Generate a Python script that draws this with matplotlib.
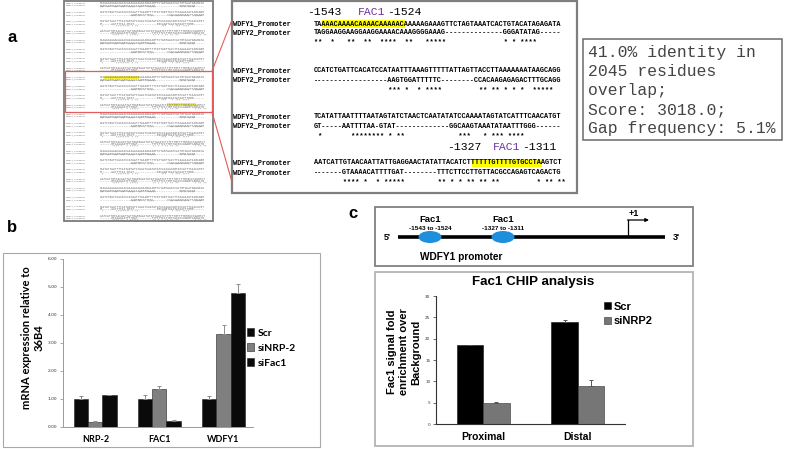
import matplotlib
matplotlib.use('Agg')
import matplotlib.pyplot as plt
from matplotlib.patches import Rectangle, Ellipse
import numpy as np

W, H = 787, 449

# ---- panel a: promoter alignment ----
seq_labels = ['WDFY1_Promoter', 'WDFY2_Promoter']
blocks = [
    ("TAAAACAAAACAAAACAAAAACAAAAAGAAAGTTCTAGTAAATCACTGTACATAGAGATA",
     "TAGGAAGGAAGGAAGGAAAACAAAGGGGAAAG--------------GGGATATAG-----",
     "**  *   **  **  ****  **   *****              * * ****"),
    ("CCATCTGATTCACATCCATAATTTAAAGTTTTTATTAGTTACCTTAAAAAAATAAGCAGG",
     "------------------AAGTGGATTTTTC--------CCACAAGAGAGACTTTGCAGG",
     "                  *** *  * ****         ** ** * * *  *****"),
    ("TCATATTAATTTTAATAGTATCTAACTCAATATATCCAAAATAGTATCATTTCAACATGT",
     "GT-----AATTTTAA-GTAT-------------GGCAAGTAAATATAATTTGGG------",
     " *       ******** * **             ***   * *** ****"),
    ("AATCATTGTAACAATTATTGAGGAACTATATTACATCTTTTTTGTTTTGTGCCTAAGTCT",
     "-------GTAAAACATTTTGAT--------TTTCTTCCTTGTTACGCCAGAGTCAGACTG",
     "       **** *  * *****        ** * * ** ** **         * ** **"),
]
# highlighted FAC1 sites: (block, first char, n chars)
fac1_sites = [(0, 2, 20), (3, 38, 17)]
site_labels = [('-1543', 'FAC1', '-1524'), ('-1327', 'FAC1', '-1311')]
stats_lines = ['41.0% identity in', '2045 residues', 'overlap;',
               'Score: 3018.0;', 'Gap frequency: 5.1%']

# ---- panel b: qPCR ----
b_genes = ['NRP-2', 'FAC1', 'WDFY1']
b_series = ['Scr', 'siNRP-2', 'siFac1']
b_scr = [1.00, 1.00, 1.00]
b_scr_err = [0.10, 0.15, 0.12]
b_sinrp2 = [0.18, 1.35, 3.33]
b_sinrp2_err = [0.05, 0.12, 0.32]
b_sifac1 = [1.15, 0.22, 4.78]
b_sifac1_err = [0.0, 0.02, 0.32]
b_yticks = [0, 1, 2, 3, 4, 5, 6]

# ---- panel c: ChIP ----
c_sites = ['-1543 to -1524', '-1327 to -1311']
c_regions = ['Proximal', 'Distal']
c_series = ['Scr', 'siNRP2']
c_scr = [18.4, 23.9]
c_scr_err = [0.2, 0.5]
c_sinrp2 = [4.9, 8.8]
c_sinrp2_err = [0.2, 1.4]
c_yticks = [0, 5, 10, 15, 20, 25, 30]

mono = 'Liberation Mono'
sans = 'Liberation Sans'
cal = 'Lato'

fig = plt.figure(figsize=(W / 100, H / 100), dpi=100)
fig.patch.set_facecolor('white')
ax0 = fig.add_axes([0, 0, 1, 1])
ax0.set_xlim(0, W)
ax0.set_ylim(H, 0)
ax0.axis('off')


def px_axes(x0, y0, x1, y1):
    return fig.add_axes([x0 / W, 1 - y1 / H, (x1 - x0) / W, (y1 - y0) / H])


def box(x0, y0, x1, y1, ec='#808080', lw=1.2):
    ax0.add_patch(Rectangle((x0, y0), x1 - x0, y1 - y0, fill=False, ec=ec, lw=lw, zorder=5))


# panel letters
for lab, x, y in [('a', 12, 37), ('b', 12, 227), ('c', 353, 213)]:
    ax0.text(x, y, lab, fontsize=12, weight='bold', family=sans, ha='center', va='center')

# thumbnail of whole alignment
box(64, 1, 213, 221, ec='#7a7a7a', lw=1.3)
tcw = 1.75
for k in range(24):
    y = 3 + 9.25 * k
    rows = blocks[k % 4]
    for b, i0, n in fac1_sites:
        if k in (8, 11) and b == k % 4:
            ax0.add_patch(Rectangle((100 + i0 * tcw, y - 1.5), n * tcw, 3,
                                    fc='#f2ee3a', ec='none', zorder=1))
    for j in range(2):
        ax0.text(66, y + 2.6 * j, seq_labels[j], fontsize=1.7, family=mono,
                 color='#6a6a6a', va='center', zorder=2)
        ax0.text(100, y + 2.6 * j, rows[j], fontsize=2.1, family=mono,
                 color='#6a6a6a', va='center', zorder=2)
    ax0.text(100, y + 5.2, rows[2], fontsize=2.1, family=mono,
             color='#6a6a6a', va='center', zorder=2)

ax0.add_patch(Rectangle((65, 71), 147, 41, fill=False, ec='#e65a5a', lw=0.9, zorder=6))
ax0.plot([212, 232], [71, 20], color='#e65a5a', lw=0.8, zorder=6)
ax0.plot([212, 232], [112, 182], color='#e65a5a', lw=0.8, zorder=6)

# zoomed alignment
box(232, 1, 577, 193, ec='#7f7f7f', lw=1.6)
seq_x0 = 314
cw = 4.15
fs_seq = cw * 72 / 100 / 0.6
block_y = [(24, 33, 43), (71, 80, 90), (117, 126, 136), (163, 173, 183)]
for bi, (rows, ys) in enumerate(zip(blocks, block_y)):
    for j in range(3):
        if j < 2:
            ax0.text(233, ys[j], seq_labels[j], fontsize=fs_seq, family=mono,
                     weight='bold', va='center', zorder=3)
        ax0.text(seq_x0, ys[j], rows[j], fontsize=fs_seq, family=mono,
                 weight='bold', va='center', zorder=3)
for b, i0, n in fac1_sites:
    ax0.add_patch(Rectangle((seq_x0 + i0 * cw, block_y[b][0] - 3.8), n * cw, 7.6,
                            fc='#ffff00', ec='none', zorder=2))
for (lo, name, hi), y, xs in zip(site_labels, [12, 147], [(307, 358, 387), (447, 493, 522)]):
    ax0.text(xs[0], y, lo, fontsize=8.2, family=mono, va='center')
    ax0.text(xs[1], y, name, fontsize=8.2, family=mono, va='center', color='#7030a0')
    ax0.text(xs[2], y, hi, fontsize=8.2, family=mono, va='center')

# stats box
box(583, 39, 782, 140, ec='#6a6a6a', lw=1.1)
for line, y in zip(stats_lines, [53, 72, 91, 110, 128]):
    ax0.text(588, y, line, fontsize=11.8, family=mono, color='#444444', va='center')

# ---- panel b ----
box(3, 253, 320, 447, ec='#a8a8a8', lw=0.8)
axb = px_axes(63, 259, 253, 427)
axb.set_facecolor('none')
xb = np.arange(len(b_genes))
bw = 0.22
b_vals = [b_scr, b_sinrp2, b_sifac1]
b_errs = [b_scr_err, b_sinrp2_err, b_sifac1_err]
b_cols = ['#0a0a0a', '#7f7f7f', '#0a0a0a']
handles = []
for i in range(3):
    pos = xb + (i - 1) * bw
    h = axb.bar(pos, b_vals[i], bw, color=b_cols[i], edgecolor='#202020', lw=0.4)
    handles.append(h)
    axb.errorbar(pos, b_vals[i], yerr=[np.zeros(3), b_errs[i]], fmt='none',
                 ecolor='#8c8c8c', elinewidth=0.7, capsize=1.6, capthick=0.7)
axb.set_xlim(-0.505, 2.46)
axb.set_ylim(0, 6)
axb.set_yticks(b_yticks)
axb.set_yticklabels(['%.2f' % v for v in b_yticks], fontsize=3.2, color='#333333')
axb.set_xticks(xb)
axb.set_xticklabels(b_genes, fontsize=6.5, weight='bold', family=cal)
axb.tick_params(axis='x', length=0, pad=6)
axb.tick_params(axis='y', length=2, width=0.5, color='#888888', pad=2)
for s in ['top', 'right']:
    axb.spines[s].set_visible(False)
for s in ['left', 'bottom']:
    axb.spines[s].set_color('#999999')
    axb.spines[s].set_linewidth(0.7)
axb.legend(handles, b_series, loc='center left', bbox_to_anchor=(247 / W, 1 - 348 / H),
           bbox_transform=fig.transFigure, frameon=False,
           prop=dict(family=cal, weight='bold', size=7.5),
           handlelength=0.7, handleheight=0.7, handletextpad=0.35,
           labelspacing=0.55, borderpad=0, borderaxespad=0)
ax0.text(33, 338, 'mRNA expression relative to\n36B4', rotation=90, fontsize=8,
         family=cal, weight='bold', ha='center', va='center', multialignment='center',
         linespacing=1.2)

# ---- panel c: promoter diagram ----
box(375, 207, 693, 266, ec='#808080', lw=1.3)
ax0.plot([398, 665], [237, 237], color='k', lw=2.6, solid_capstyle='butt', zorder=3)
for xc_, site in zip([430, 503], c_sites):
    ax0.add_patch(Ellipse((xc_, 237), 23, 12, fc='#1e8fdc', ec='none', zorder=4))
    ax0.text(xc_, 220, 'Fac1', fontsize=6.8, weight='bold', family=sans, ha='center', va='center')
    ax0.text(xc_, 228, site, fontsize=4.6, weight='bold', family=sans, ha='center', va='center')
ax0.plot([628, 628], [237, 220], color='k', lw=0.9, zorder=3)
ax0.annotate('', xy=(649, 220), xytext=(627.6, 220),
             arrowprops=dict(arrowstyle='-|>', color='k', lw=0.9, mutation_scale=5,
                             shrinkA=0, shrinkB=0))
ax0.text(634, 213, '+1', fontsize=6.5, weight='bold', family=sans, ha='center', va='center')
ax0.text(387, 238, "5'", fontsize=6.5, weight='bold', family=sans, ha='center', va='center')
ax0.text(676, 238, "3'", fontsize=6.5, weight='bold', family=sans, ha='center', va='center')
ax0.text(420, 257, 'WDFY1 promoter', fontsize=7.3, weight='bold', family=sans, va='center')

# ---- panel c: ChIP bars ----
box(375, 272, 693, 446, ec='#b4b4b4', lw=1.3)
ax0.text(533, 282, 'Fac1 CHIP analysis', fontsize=9.6, weight='bold', family=sans,
         ha='center', va='center')
axc = px_axes(436, 296, 625, 424)
axc.set_facecolor('none')
xc = np.arange(len(c_regions))
cbw = 0.28
hc1 = axc.bar(xc - cbw / 2, c_scr, cbw, color='#000000', edgecolor='#111111', lw=0.4)
hc2 = axc.bar(xc + cbw / 2, c_sinrp2, cbw, color='#767676', edgecolor='#333333', lw=0.4)
axc.errorbar(xc - cbw / 2, c_scr, yerr=[np.zeros(2), c_scr_err], fmt='none',
             ecolor='#555555', elinewidth=0.7, capsize=1.6, capthick=0.7)
axc.errorbar(xc + cbw / 2, c_sinrp2, yerr=[np.zeros(2), c_sinrp2_err], fmt='none',
             ecolor='#555555', elinewidth=0.7, capsize=1.6, capthick=0.7)
axc.set_xlim(-0.5, 1.5)
axc.set_ylim(0, 30)
axc.set_yticks(c_yticks)
axc.set_yticklabels([str(v) for v in c_yticks], fontsize=3, color='#333333')
axc.set_xticks(xc)
axc.set_xticklabels(c_regions, fontsize=7.5, weight='bold', family=sans)
axc.tick_params(axis='x', length=0, pad=6)
axc.tick_params(axis='y', length=2, width=0.5, color='#333333', pad=2)
for s in ['top', 'right']:
    axc.spines[s].set_visible(False)
for s in ['left', 'bottom']:
    axc.spines[s].set_color('#333333')
    axc.spines[s].set_linewidth(0.8)
axc.legend([hc1, hc2], c_series, loc='center left', bbox_to_anchor=(604 / W, 1 - 314 / H),
           bbox_transform=fig.transFigure, frameon=False,
           prop=dict(family=sans, weight='bold', size=8),
           handlelength=0.6, handleheight=0.6, handletextpad=0.3,
           labelspacing=0.4, borderpad=0, borderaxespad=0)
ax0.text(404, 352, 'Fac1 signal fold\nenrichment over\nBackground', rotation=90,
         fontsize=8, weight='bold', family=sans, ha='center', va='center',
         multialignment='center', linespacing=1.3)

fig.savefig('out.png', dpi=100)
